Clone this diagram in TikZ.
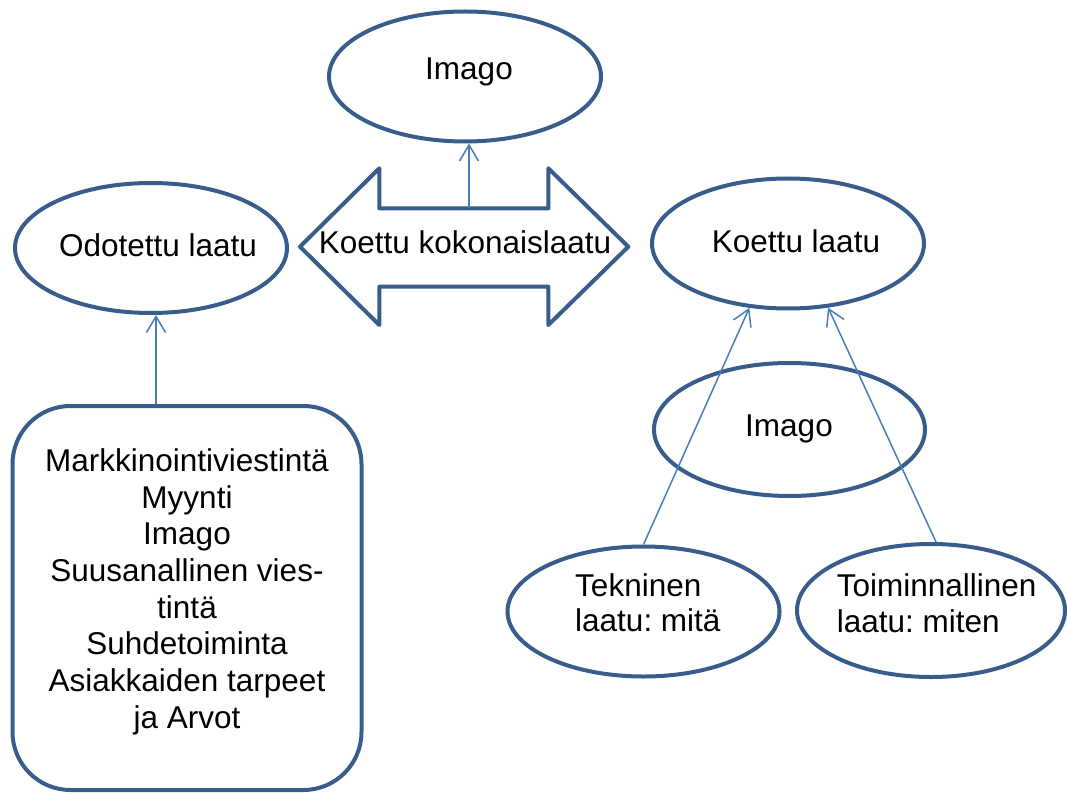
\documentclass[tikz,border=0pt]{standalone}
\usepackage{fontspec}
\setmainfont{Liberation Sans}
\usetikzlibrary{arrows.meta,shapes.geometric}
\definecolor{shapeblue}{HTML}{385D8A}
\definecolor{linkblue}{HTML}{4A7EBB}
\frenchspacing

\begin{document}
\begin{tikzpicture}[x=1pt,y=-1pt,
  shapeline/.style={draw=shapeblue, line width=4pt, line join=round},
  oval/.style={shapeline, ellipse, inner sep=0pt, minimum width=272pt, minimum height=130pt},
  roundbox/.style={shapeline, rectangle, rounded corners=58pt, inner sep=0pt,
    minimum width=349pt, minimum height=384pt},
  txt/.style={font=\fontsize{31.5}{36.7}\selectfont, inner sep=0pt, anchor=base},
  link/.style={draw=linkblue, line width=1.5pt,
    -{Straight Barb[length=16pt,width=19pt,line width=1.5pt]}}
]
\useasboundingbox (0,0) rectangle (1067,794);

% ellipses
\node[oval] (imagotop) at (465,76.5) {};
\node[oval] (odot) at (151,248) {};
\node[oval] (koe) at (788,243.5) {};
\node[oval, minimum width=271pt, minimum height=133pt] (imagomid) at (789.5,429.5) {};
\node[oval] (tek) at (643.5,611.5) {};
\node[oval, minimum width=268pt, minimum height=133pt] (toi) at (931,610.5) {};

% rounded box with the list of sources
\node[roundbox] (box) at (187,598) {};

% double-headed block arrow
\draw[shapeline] (300,246.7) -- (379.3,168.3) -- (379.3,208.3) -- (548.3,208.3)
  -- (548.3,168.3) -- (628.3,246.7) -- (548.3,325) -- (548.3,286.7)
  -- (379.3,286.7) -- (379.3,325) -- cycle;
\coordinate (shafttop) at (469,208.3);

% texts (multi-line nodes are anchored at the baseline of their last line)
\node[txt] (timagotop) at (469,80) {Imago};
\node[txt] (todot) at (158,256) {Odotettu laatu};
\node[txt] (tkok) at (465,253.3) {Koettu kokonaislaatu};
\node[txt] (tkoe) at (796,252.7) {Koettu laatu};
\node[txt] (timagomid) at (789,436) {Imago};
\node[txt, anchor=base west, align=left,
  font=\fontsize{31.5}{35}\selectfont] (ttek) at (575,631.7) {Tekninen\\laatu: mitä};
\node[txt, anchor=base west, align=left,
  font=\fontsize{31.5}{36}\selectfont] (ttoi) at (836.7,632.7) {Toiminnallinen\\laatu: miten};
\node[txt, align=center] (tbox) at (187,728.3)
  {Markkinointiviestintä\\Myynti\\Imago\\Suusanallinen vies-\\tintä\\Suhdetoiminta\\Asiakkaiden tarpeet\\ja Arvot};

% connectors
\coordinate (boxlink) at (156,0);
\draw[link] (box.north -| boxlink) -- (odot.south -| boxlink);
\draw[link] (shafttop) -- (imagotop.south -| shafttop);
\draw[link] (tek.north) -- (koe.239);
\draw[link] ([xshift=5pt]toi.north) -- (koe.302);
\end{tikzpicture}
\end{document}
